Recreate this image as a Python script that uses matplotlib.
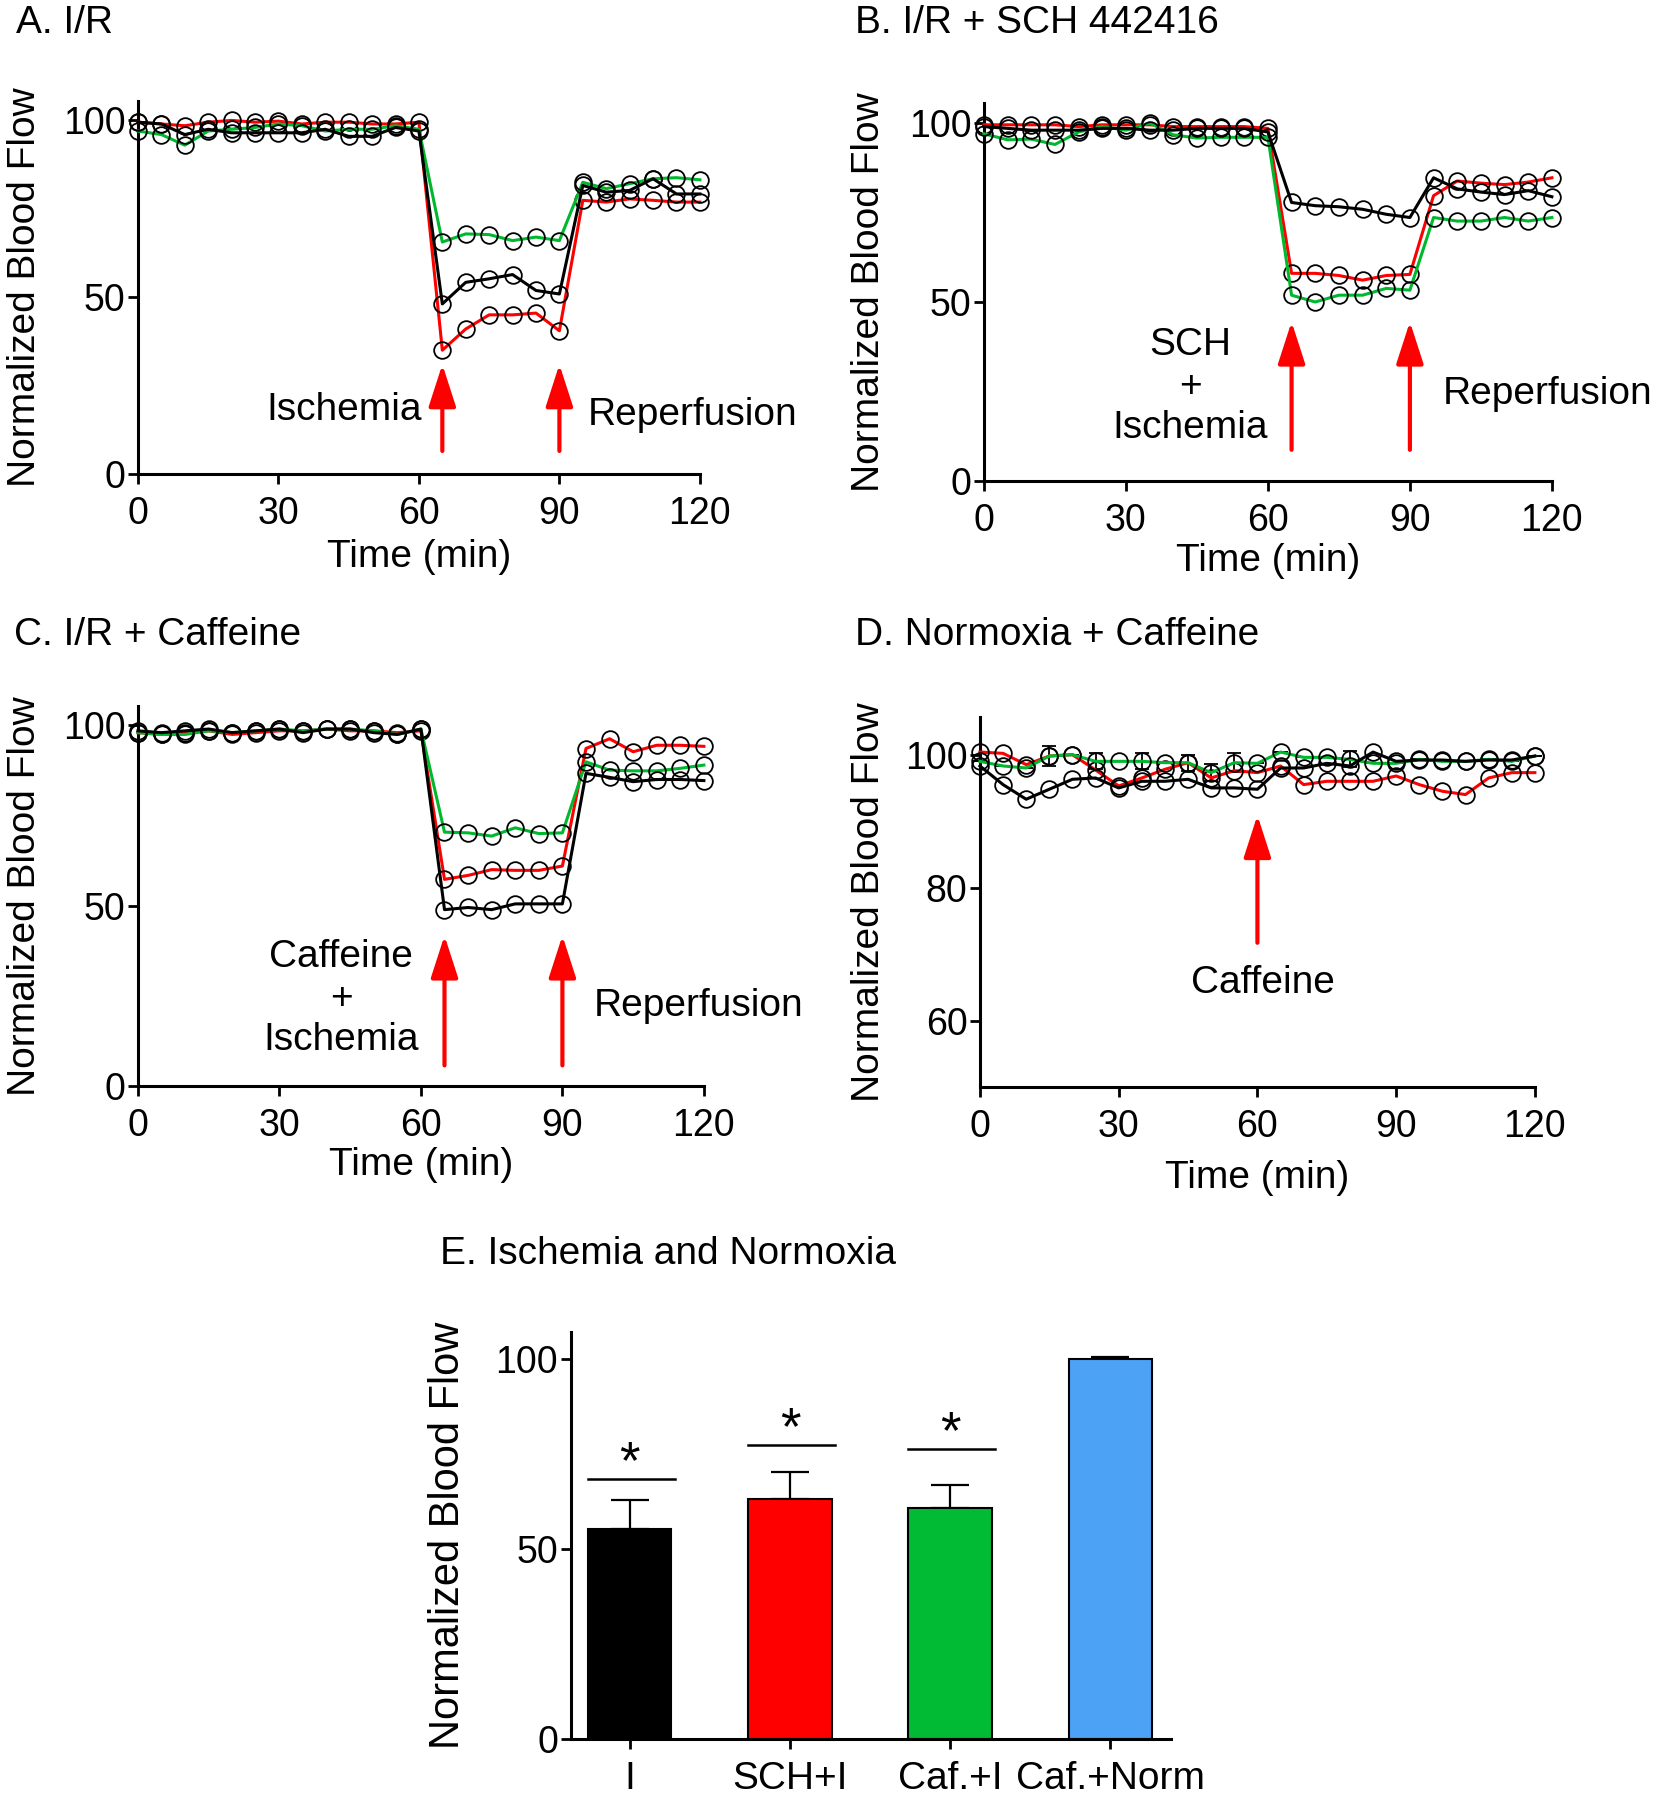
import numpy as np
import matplotlib.pyplot as plt

plt.rcParams['font.family'] = ['Liberation Sans', 'DejaVu Sans']

RED = '#ff0000'
GREEN = '#00b82e'

time = [0, 5, 10, 15, 20, 25, 30, 35, 40, 45, 50, 55, 60,
        65, 70, 75, 80, 85, 90, 95, 100, 105, 110, 115, 120]

# A. I/R
a_red = [99.5, 99, 98.5, 99.5, 100, 99.5, 99.8, 99, 99.5, 99.5, 99, 99, 99.5,
         35, 41, 45, 45, 45.5, 40.5, 77.4, 76.9, 77.8, 77.4, 76.9, 76.9]
a_green = [97, 96, 93, 97, 97.5, 98, 99, 98.5, 97, 97.5, 97.5, 98.5, 97.5,
           65.6, 67.9, 67.7, 66, 67, 66, 82.5, 80.7, 82.1, 83.5, 83.8, 83.2]
a_black = [99.5, 99, 96, 97.5, 96.5, 96.5, 96.5, 96.5, 97.5, 95.5, 95.5, 98, 97,
           48.1, 54.2, 55.2, 56.4, 51.9, 50.9, 81.6, 79.7, 80.2, 83.5, 79.2, 79.2]

# B. I/R + SCH 442416
b_red = [99.5, 99.5, 99.5, 99.5, 99, 99.5, 99.5, 99.5, 99, 99, 99, 99, 98.5,
         58, 58, 57.4, 56.1, 57.4, 57.7, 79.7, 83.8, 83.2, 82.8, 83.5, 84.7]
b_green = [97, 95.3, 95.5, 94, 97.5, 99, 98, 100, 96.7, 95.8, 96, 96, 96,
           51.9, 50, 51.9, 51.9, 53.8, 53.3, 73.6, 72.6, 72.6, 73.6, 72.6, 73.6]
b_black = [99, 98.5, 98, 98, 98, 98.5, 98.5, 98, 98, 98.5, 98.5, 98.5, 97.5,
           77.8, 76.9, 76.6, 75.9, 74.5, 73.6, 84.7, 81.6, 80.7, 80, 81.1, 79.4]

# C. I/R + Caffeine
c_red = [98, 97.5, 98, 98.5, 97.5, 98, 98.5, 98.5, 99, 98.5, 98.5, 98, 98.5,
         57.3, 58.4, 60, 59.8, 59.8, 61, 93.6, 96.3, 92.7, 94.5, 94.5, 94.2]
c_green = [98, 97.5, 97.5, 98.5, 98, 98.5, 99, 98.5, 99, 99, 98.5, 97.5, 99,
           70.4, 70.2, 69.3, 71.6, 70, 70.2, 89.9, 87.6, 87.4, 87.4, 88.1, 89]
c_black = [98.5, 98, 98.5, 99, 98, 98.5, 99, 98, 99, 99, 98, 97.5, 99,
           48.9, 49.5, 48.9, 50.5, 50.5, 50.5, 86.7, 85.6, 84.4, 85, 85, 84.7]

# D. Normoxia + Caffeine
d_red = [100.4, 100.2, 98.5, 99.8, 100, 97.7, 95.3, 96.5, 97.8, 98.8, 96.5, 97.6, 97.3,
         98.3, 95.5, 96, 96, 96, 96.8, 95.5, 94.5, 94, 96.5, 97.3, 97.3]
d_green = [99, 98.3, 98, 99.8, 100, 99, 99, 99, 98.8, 98.8, 97.3, 98.8, 98.7,
           100.4, 99.6, 99.6, 99.3, 98.7, 98.7, 99.3, 99, 99, 99.3, 99, 99.8]
d_green_err = [0, 0, 0, 1.5, 0, 1.2, 0, 1.2, 0, 1.2, 1.3, 1.4, 0,
               0, 0, 0, 1.2, 0, 0, 0, 0, 0, 0, 0, 0]
d_black = [98.3, 95.5, 93.3, 94.8, 96.3, 96.5, 95, 96, 96, 96.3, 95, 95, 94.8,
           98, 98, 98.7, 98.3, 100.4, 99, 99.2, 99.2, 99, 99.2, 99.2, 99.8]

# E. Ischemia and Normoxia
groups = ['I', 'SCH+I', 'Caf.+I', 'Caf.+Norm']
bar_mean = [55.2, 63.1, 60.7, 100]
bar_err = [7.5, 7.0, 6.1, 0.3]
bar_colors = ['black', RED, '#00bb33', '#4ca3f5']
sig_level = [68.3, 77.2, 76.3]

FS = 27


def style_axis(ax):
    for s in ('top', 'right'):
        ax.spines[s].set_visible(False)
    for s in ('left', 'bottom'):
        ax.spines[s].set_linewidth(2.2)
    ax.tick_params(direction='out', length=7, width=2, labelsize=FS)
    ax.tick_params(axis='x', pad=9)
    ax.tick_params(axis='y', pad=2)


def draw_traces(ax, red, green, black, green_err=None):
    for vals, col in ((red, RED), (green, GREEN), (black, 'black')):
        ax.plot(time, vals, color=col, lw=2.2, marker='o', ms=12, mfc='none',
                mec='black', mew=1.3, clip_on=False, zorder=3)
    if green_err is not None:
        ax.errorbar(time, green, yerr=green_err, fmt='none', ecolor='black',
                    elinewidth=1.3, capsize=5, capthick=1.3, clip_on=False, zorder=2)


def red_arrow(ax, x, y0, y1):
    ax.annotate('', xy=(x, y1), xytext=(x, y0),
                arrowprops=dict(arrowstyle='-|>,head_width=0.42,head_length=1.3',
                                color=RED, lw=3, mutation_scale=20,
                                shrinkA=0, shrinkB=0))


def time_panel(rect, red, green, black, ylim, yticks, xlab_y, ylab_x, green_err=None):
    ax = fig.add_axes(rect)
    draw_traces(ax, red, green, black, green_err)
    ax.set_xlim(0, 120)
    ax.set_ylim(*ylim)
    ax.set_xticks([0, 30, 60, 90, 120])
    ax.set_yticks(yticks)
    style_axis(ax)
    ax.set_xlabel('Time (min)', fontsize=FS + 1)
    ax.xaxis.set_label_coords(0.5, xlab_y)
    ax.xaxis.label.set_va('center')
    ax.set_ylabel('Normalized Blood Flow', fontsize=FS + 1)
    ax.yaxis.set_label_coords(ylab_x, 0.5)
    ax.yaxis.label.set_va('center')
    return ax


fig = plt.figure(figsize=(16.66, 18), dpi=100)

# panel A
ax = time_panel([0.0828, 0.7367, 0.3373, 0.2072], a_red, a_green, a_black,
                (0, 105.5), [0, 50, 100], -0.2225, -0.201)
red_arrow(ax, 65, 6.5, 31)
red_arrow(ax, 90, 6.5, 31)
ax.text(44, 18, 'Ischemia', fontsize=FS + 1, ha='center', va='center')
ax.text(118.5, 16.6, 'Reperfusion', fontsize=FS + 1, ha='center', va='center')

# panel B
ax = time_panel([0.5906, 0.7328, 0.3409, 0.2098], b_red, b_green, b_black,
                (0, 105.5), [0, 50, 100], -0.212, -0.2025)
red_arrow(ax, 65, 8.7, 44.5)
red_arrow(ax, 90, 8.7, 44.5)
ax.text(43.6, 26.3, 'SCH\n+\nIschemia', fontsize=FS + 1, ha='center', va='center',
        linespacing=1.2)
ax.text(119, 24.4, 'Reperfusion', fontsize=FS + 1, ha='center', va='center')

# panel C
ax = time_panel([0.0828, 0.3967, 0.3397, 0.2113], c_red, c_green, c_black,
                (0, 105.5), [0, 50, 100], -0.208, -0.1996)
red_arrow(ax, 65, 5.7, 41.7)
red_arrow(ax, 90, 5.7, 41.7)
ax.text(43.1, 24.2, 'Caffeine\n+\nIschemia', fontsize=FS + 1, ha='center', va='center',
        linespacing=1.2)
ax.text(118.8, 22.3, 'Reperfusion', fontsize=FS + 1, ha='center', va='center')

# panel D
ax = time_panel([0.5882, 0.3961, 0.3331, 0.2053], d_red, d_green, d_black,
                (50, 105.6), [60, 80, 100], -0.246, -0.2, green_err=d_green_err)
red_arrow(ax, 60, 71.7, 90.9)
ax.text(61.1, 65.7, 'Caffeine', fontsize=FS + 1, ha='center', va='center')

# panel E
ax = fig.add_axes([0.3425, 0.0339, 0.3604, 0.2261])
xpos = np.arange(len(groups))
ax.bar(xpos, bar_mean, width=0.52, color=bar_colors, edgecolor='black', linewidth=1.5,
       zorder=2)
ax.errorbar(xpos, bar_mean, yerr=[np.zeros(len(bar_err)), bar_err], fmt='none',
            ecolor='black', elinewidth=1.6, capsize=14, capthick=1.6, zorder=1)
for i, lvl in enumerate(sig_level):
    ax.plot([i - 0.26, i + 0.28], [lvl, lvl], color='black', lw=1.8)
    ax.text(i, lvl + 0.3, '*', fontsize=38, ha='center', va='baseline')
ax.set_xlim(-0.37, 3.38)
ax.set_ylim(0, 107)
ax.set_xticks(xpos)
ax.set_xticklabels(groups)
ax.set_yticks([0, 50, 100])
style_axis(ax)
ax.tick_params(axis='x', labelsize=FS + 1)
ax.set_ylabel('Normalized Blood Flow', fontsize=FS + 3)
ax.yaxis.set_label_coords(-0.2047, 0.5)
ax.yaxis.label.set_va('center')

# panel titles
titles = [(16, 23, 'A. I/R'), (855, 23, 'B. I/R + SCH 442416'),
          (14, 635, 'C. I/R + Caffeine'), (855, 635, 'D. Normoxia + Caffeine'),
          (440, 1254, 'E. Ischemia and Normoxia')]
for px, py, t in titles:
    fig.text(px / 1666, 1 - py / 1800, t, fontsize=FS + 1, ha='left', va='center')

fig.savefig('out.png', dpi=100)
